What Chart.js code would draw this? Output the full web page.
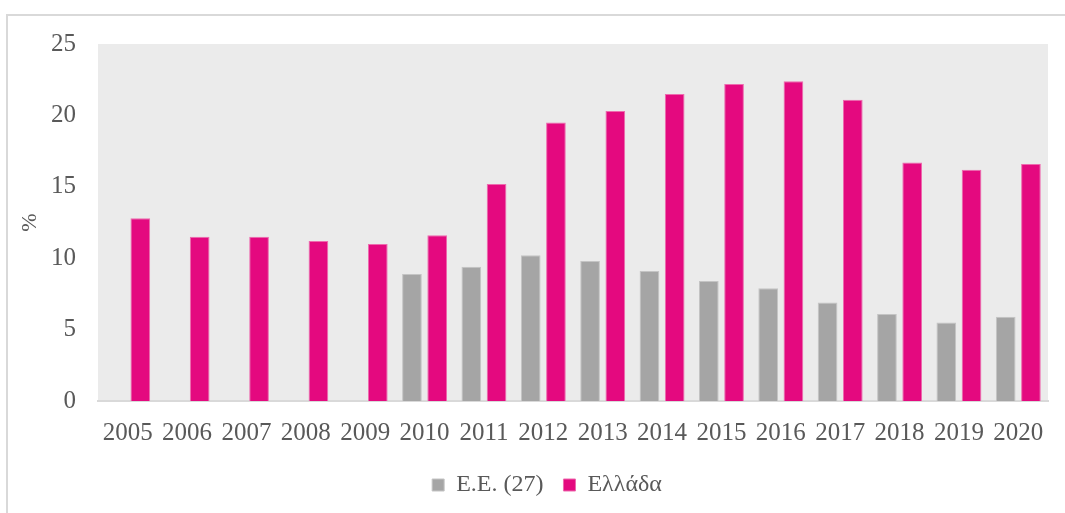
<!DOCTYPE html>
<html>
<head>
<meta charset="utf-8">
<script src="https://cdn.jsdelivr.net/npm/chart.js@4"></script>
<style>
  html, body { margin: 0; padding: 0; background: #fff; overflow: hidden; }
  #frame {
    position: absolute; left: 6px; top: 14px; width: 2000px; height: 2000px;
    border-left: 2px solid #d9d9d9; border-top: 2px solid #d9d9d9;
  }
  /* canvas runs past the right edge so the legend sits under the plot centre */
  #wrap { position: absolute; left: 0; top: 0; width: 1100px; height: 513px; }
</style>
</head>
<body>
<div id="frame"></div>
<div id="wrap"><canvas id="chart"></canvas></div>
<script>
// DATA -----------------------------------------------------------------------

const years = ['2005', '2006', '2007', '2008', '2009', '2010', '2011', '2012',
               '2013', '2014', '2015', '2016', '2017', '2018', '2019', '2020'];

// EU-27 has no values before 2010
const euValues = [null, null, null, null, null, 8.9, 9.4, 10.2,
                  9.8, 9.1, 8.4, 7.9, 6.9, 6.1, 5.5, 5.9];

const greeceValues = [12.8, 11.5, 11.5, 11.2, 11.0, 11.6, 15.2, 19.5,
                      20.3, 21.5, 22.2, 22.4, 21.1, 16.7, 16.2, 16.6];

const yTicks = [0, 5, 10, 15, 20, 25];

// SETTINGS -------------------------------------------------------------------

const textColor = '#595959';
const fontFamily = '"Liberation Serif", serif';

const series = {
    eu: {name: 'Ε.Ε. (27)', color: '#a5a5a5', edge: '#c4c4c4'},
    greece: {name: 'Ελλάδα', color: '#e4097f', edge: '#ee6aae'}
};

function barDataset(type, data) {
    return {
        label: series[type].name,
        data: data,
        backgroundColor: series[type].color,
        borderColor: series[type].edge,
        borderWidth: 1,
        categoryPercentage: 0.85,
        barPercentage: 0.78
    };
}

// grey plot area behind the bars
const plotBackground = {
    id: 'plotBackground',
    beforeDraw(chart) {
        const {ctx, chartArea: a} = chart;
        ctx.save();
        ctx.fillStyle = '#ebebeb';
        ctx.fillRect(a.left, a.top, a.right - a.left, a.bottom - a.top);
        ctx.restore();
    }
};

// CHART ----------------------------------------------------------------------

new Chart(document.getElementById('chart'), {
    type: 'bar',
    data: {
        labels: years,
        datasets: [
            barDataset('eu', euValues),
            barDataset('greece', greeceValues)
        ]
    },
    plugins: [plotBackground],
    options: {
        responsive: true,
        maintainAspectRatio: false,
        animation: false,
        layout: {
            padding: {top: 44, right: 52, left: 46, bottom: 6}
        },
        plugins: {
            tooltip: {enabled: false},
            legend: {
                position: 'bottom',
                labels: {
                    color: textColor,
                    font: {family: fontFamily, size: 24},
                    boxWidth: 12,
                    boxHeight: 12,
                    padding: 20
                }
            }
        },
        scales: {
            x: {
                afterFit: (scale) => {
                    scale.height = 52;
                },
                grid: {display: false, drawTicks: false},
                border: {display: true, color: '#d9d9d9', width: 2},
                ticks: {
                    color: textColor,
                    font: {family: fontFamily, size: 25},
                    padding: 17,
                    maxRotation: 0,
                    autoSkip: false
                }
            },
            y: {
                min: 0,
                max: 25,
                afterBuildTicks: (scale) => {
                    scale.ticks = yTicks.map(v => ({value: v}));
                },
                afterFit: (scale) => {
                    scale.width = 52;
                },
                grid: {display: false, drawTicks: false},
                border: {display: false},
                ticks: {
                    color: textColor,
                    font: {family: fontFamily, size: 25},
                    padding: 22
                },
                title: {
                    display: true,
                    text: '%',
                    color: textColor,
                    font: {family: fontFamily, size: 22},
                    padding: {top: -29, bottom: 0}
                }
            }
        }
    }
});
</script>
</body>
</html>
